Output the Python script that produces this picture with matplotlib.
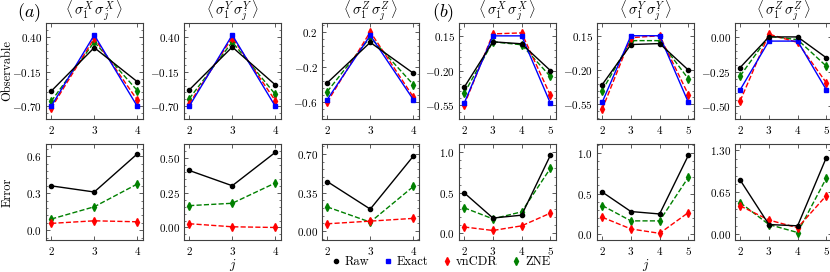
import matplotlib
matplotlib.use('Agg')
import matplotlib.pyplot as plt
from matplotlib.lines import Line2D
from matplotlib.ticker import AutoMinorLocator

# data
j_a = [2, 3, 4]
j_b = [2, 3, 4, 5]

titles = [r'$\langle\, \sigma_1^X\, \sigma_j^X \,\rangle$',
          r'$\langle\, \sigma_1^Y\, \sigma_j^Y \,\rangle$',
          r'$\langle\, \sigma_1^Z\, \sigma_j^Z \,\rangle$']

# observables, group (a)
raw_a = [[-0.46, 0.23, -0.31], [-0.44, 0.24, -0.36], [-0.38, 0.08, -0.27]]
exact_a = [[-0.70, 0.43, -0.70], [-0.70, 0.43, -0.70], [-0.57, 0.16, -0.57]]
vncdr_a = [[-0.73, 0.38, -0.60], [-0.66, 0.39, -0.61], [-0.60, 0.20, -0.54]]
zne_a = [[-0.62, 0.32, -0.45], [-0.58, 0.32, -0.51], [-0.48, 0.14, -0.40]]

# observables, group (b)
raw_b = [[-0.37, 0.09, 0.07, -0.20], [-0.35, 0.06, 0.07, -0.20], [-0.22, 0.00, 0.00, -0.15]]
exact_b = [[-0.53, 0.15, 0.15, -0.53], [-0.53, 0.15, 0.15, -0.53], [-0.38, -0.03, -0.03, -0.38]]
vncdr_b = [[-0.55, 0.17, 0.18, -0.45], [-0.60, 0.13, 0.15, -0.45], [-0.46, 0.02, -0.04, -0.33]]
zne_b = [[-0.43, 0.09, 0.06, -0.26], [-0.41, 0.10, 0.10, -0.29], [-0.28, 0.005, -0.02, -0.21]]

# errors
err_raw_a = [[0.36, 0.31, 0.62], [0.41, 0.30, 0.54], [0.45, 0.20, 0.68]]
err_vncdr_a = [[0.055, 0.076, 0.068], [0.027, 0.005, 0.0], [0.067, 0.091, 0.116]]
err_zne_a = [[0.09, 0.19, 0.375], [0.157, 0.174, 0.32], [0.22, 0.082, 0.405]]
err_raw_b = [[0.50, 0.19, 0.225, 0.96], [0.52, 0.28, 0.25, 0.97], [0.84, 0.15, 0.13, 1.19]]
err_vncdr_b = [[0.08, 0.037, 0.094, 0.25], [0.21, 0.066, 0.012, 0.267], [0.44, 0.22, 0.10, 0.60]]
err_zne_b = [[0.316, 0.18, 0.266, 0.80], [0.354, 0.165, 0.165, 0.70], [0.49, 0.15, 0.026, 0.87]]

# tick labels and limits per panel (columns left to right)
obs_ticks = [['0.40', '-0.15', '-0.70'], ['0.40', '-0.15', '-0.70'], ['0.2', '-0.2', '-0.6'],
             ['0.15', '-0.20', '-0.55'], ['0.15', '-0.20', '-0.55'], ['0.00', '-0.25', '-0.50']]
obs_lims = [(-0.90, 0.62), (-0.90, 0.62), (-0.79, 0.30), (-0.69, 0.28), (-0.70, 0.28), (-0.59, 0.10)]
err_ticks = [['0.0', '0.3', '0.6'], ['0.00', '0.25', '0.50'], ['0.00', '0.35', '0.70'],
             ['0.0', '0.5', '1.0'], ['0.0', '0.5', '1.0'], ['0.00', '0.65', '1.30']]
err_lims = [(-0.08, 0.70), (-0.09, 0.60), (-0.08, 0.79), (-0.08, 1.10), (-0.07, 1.11), (-0.09, 1.40)]

#-------------------------------------------------------------------------------
# style
#-------------------------------------------------------------------------------
plt.rcParams.update({
    'font.family': 'serif',
    'font.serif': ['cmr10', 'DejaVu Serif'],
    'mathtext.fontset': 'cm',
    'axes.formatter.use_mathtext': True,
    'axes.unicode_minus': True,
    'xtick.direction': 'in',
    'ytick.direction': 'in',
    'xtick.top': True,
    'ytick.right': True,
    'xtick.major.size': 3,
    'ytick.major.size': 3,
    'ytick.minor.size': 1.5,
    'xtick.major.width': 0.6,
    'ytick.major.width': 0.6,
    'ytick.minor.width': 0.5,
    'axes.linewidth': 0.8,
    'axes.edgecolor': '0.25',
    'xtick.labelsize': 8,
    'ytick.labelsize': 8,
})

styles = {
    'Raw': dict(color='black', marker='o', ms=3, ls='-'),
    'Exact': dict(color='blue', marker='s', ms=2.8, ls='-'),
    'vnCDR': dict(color='red', marker='d', ms=4, ls='--'),
    'ZNE': dict(color='green', marker='d', ms=4, ls='--'),
}

fig = plt.figure(figsize=(8.3, 2.72), dpi=100)

W, H = 830.0, 272.0
lefts = [46, 184, 322, 459, 597, 735]
width = 96.5
top_rows = [(23, 119), (144, 240)]


def make_ax(col, row):
    y0, y1 = top_rows[row]
    return fig.add_axes([lefts[col] / W, 1 - y1 / H, width / W, (y1 - y0) / H])


def style_ax(ax, x, labels, lims):
    vals = [float(s) for s in labels]
    ax.set_yticks(vals)
    ax.set_yticklabels(['$' + s + '$' for s in labels])
    ax.set_ylim(*lims)
    ax.set_xticks(x)
    ax.set_xticklabels(['$%d$' % v for v in x])
    pad = 0.06 * (x[-1] - x[0])
    ax.set_xlim(x[0] - pad, x[-1] + pad)
    ax.yaxis.set_minor_locator(AutoMinorLocator(5))
    ax.tick_params(which='both', colors='0.25', labelcolor='black')
    ax.tick_params(axis='y', pad=3)


for col in range(6):
    if col < 3:
        x = j_a
        k = col
        obs = [raw_a[k], exact_a[k], vncdr_a[k], zne_a[k]]
        err = [err_raw_a[k], err_vncdr_a[k], err_zne_a[k]]
    else:
        x = j_b
        k = col - 3
        obs = [raw_b[k], exact_b[k], vncdr_b[k], zne_b[k]]
        err = [err_raw_b[k], err_vncdr_b[k], err_zne_b[k]]

    ax = make_ax(col, 0)
    ax.plot(x, obs[3], lw=1, **styles['ZNE'])
    ax.plot(x, obs[2], lw=1, **styles['vnCDR'])
    ax.plot(x, obs[1], lw=1, **styles['Exact'])
    ax.plot(x, obs[0], lw=1, **styles['Raw'])
    style_ax(ax, x, obs_ticks[col], obs_lims[col])
    ax.set_title(titles[k], fontsize=10.5, pad=4)

    ax = make_ax(col, 1)
    ax.plot(x, err[2], lw=1, **styles['ZNE'])
    ax.plot(x, err[1], lw=1, **styles['vnCDR'])
    ax.plot(x, err[0], lw=1, **styles['Raw'])
    style_ax(ax, x, err_ticks[col], err_lims[col])
    if col in (1, 4):
        ax.set_xlabel('$j$', fontsize=9.5, labelpad=0)

fig.text(0.009, 0.739, 'Observable', rotation=90, ha='center', va='center', fontsize=9)
fig.text(0.009, 0.294, 'Error', rotation=90, ha='center', va='center', fontsize=9)
fig.text(17 / W, 1 - 13 / H, '$(a)$', ha='left', va='center', fontsize=13)
fig.text(432 / W, 1 - 13 / H, '$(b)$', ha='left', va='center', fontsize=13)

handles = [Line2D([], [], ls='none', color=s['color'], marker=s['marker'], ms=s['ms'])
           for s in styles.values()]
fig.legend(handles, list(styles.keys()), loc='center', bbox_to_anchor=(0.53, 0.037),
           ncol=4, frameon=False, fontsize=9, handletextpad=0.2, columnspacing=1.0,
           handlelength=1.0, borderaxespad=0)

fig.savefig('out.png', dpi=100)
